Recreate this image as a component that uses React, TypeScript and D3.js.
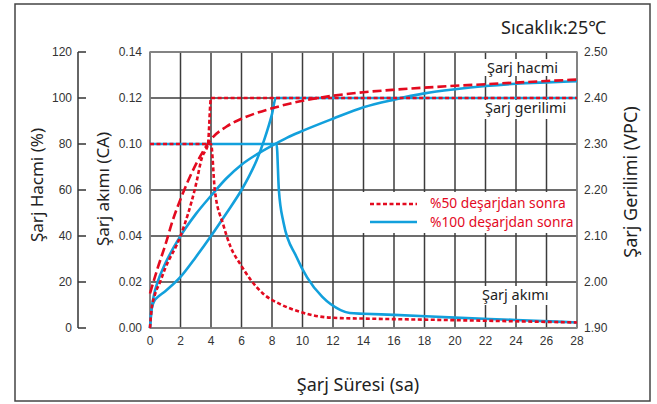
import React from 'react';
import * as d3 from 'd3';

const W = 657;
const H = 404;

// axis ticks
const hourTicks = [0, 2, 4, 6, 8, 10, 12, 14, 16, 18, 20, 22, 24, 26, 28];
const capTicks = [0, 20, 40, 60, 80, 100, 120];
const caTicks = [0, 0.02, 0.04, 0.06, 0.1, 0.12, 0.14];
const caLabels = ['0.00', '0.02', '0.04', '0.06', '0.10', '0.12', '0.14'];
const vTicks = [1.9, 2.0, 2.1, 2.2, 2.3, 2.4, 2.5];

// %50 desarj sonrası
const cur50T = [0, 2, 4, 4.25, 4.8, 5.3, 5.9, 6.6, 7.4, 8.5, 9.8, 11.1, 12.5, 14, 20, 28];
const cur50 = [0.1, 0.1, 0.1, 0.06, 0.045, 0.035, 0.028, 0.021, 0.015, 0.0105, 0.0071, 0.005, 0.0043, 0.0041, 0.0034, 0.0024];
const v50T = [0, 0.1, 0.3, 0.66, 1, 2, 3, 3.4, 3.8, 4, 28];
const v50 = [1.9, 1.94, 1.97, 2.0, 2.03, 2.1, 2.21, 2.27, 2.3, 2.4, 2.4];
const cap50T = [0, 0.5, 1, 1.5, 2, 2.5, 3, 3.5, 4, 5, 6, 7, 8, 9, 10, 11, 12, 14, 16, 18, 20, 22, 24, 26, 28];
const cap50 = [15, 26, 36, 47, 56, 64, 71, 77, 82, 87.5, 91, 93.5, 95.5, 97.3, 98.8, 100, 101, 102.5, 103.6, 104.5, 105.3, 106, 106.7, 107.4, 108];

// %100 desarj sonrası
const cur100T = [0, 4, 8, 8.3, 8.45, 8.75, 9.6, 10.3, 11.3, 12.5, 13.1, 14, 16, 20, 24, 28];
const cur100 = [0.1, 0.1, 0.1, 0.1, 0.06, 0.046, 0.031, 0.022, 0.0135, 0.0078, 0.0065, 0.0062, 0.0057, 0.0045, 0.0035, 0.0024];
const v100T = [0, 0.1, 0.3, 0.5, 1, 2, 3, 4, 5, 6, 6.5, 7, 7.5, 8, 8.25, 28];
const v100 = [1.9, 1.94, 1.96, 1.967, 1.98, 2.011, 2.054, 2.1, 2.149, 2.2, 2.23, 2.265, 2.31, 2.365, 2.4, 2.4];
const cap100T = [0, 0.1, 0.25, 0.5, 1, 2, 3, 4, 5, 6, 7, 8, 9, 10, 12, 14, 16, 18, 20, 22, 24, 26, 28];
const cap100 = [0, 8, 14, 20, 28, 40, 49.5, 57.5, 65, 71, 75.5, 79.3, 82.8, 85.7, 91, 96, 99.3, 102, 103.8, 105.2, 106.2, 106.8, 107.3];

const RED = '#e30a1f';
const BLUE = '#12a0dc';
const GRID = '#3c3c3c';
const TXT = '#333';
const TITLE_FONT = "'Noto Sans', 'Open Sans', sans-serif";
const TICK_FONT = "'Liberation Sans', Arial, sans-serif";

const x0 = 150, x1 = 577, y0 = 328, y1 = 52;

const App: React.FC = () => {
  const x = d3.scaleLinear().domain([0, 28]).range([x0, x1]);
  const yCap = d3.scaleLinear().domain([0, 120]).range([y0, y1]);
  const yV = d3.scaleLinear().domain([1.9, 2.5]).range([y0, y1]);
  const step = (y0 - y1) / 6;
  // the original axis skips 0.08, so the current scale is piecewise
  const yCA = d3.scaleLinear().domain([0, 0.06, 0.1, 0.14]).range([y0, y0 - 3 * step, y0 - 4 * step, y1]);

  const mk = (ts: number[], vs: number[], y: (v: number) => number) =>
    d3.line<number>().x((_, i) => x(ts[i])).y((v) => y(v)).curve(d3.curveMonotoneX)(vs) || '';

  return (
    <svg width={W} height={H} style={{ position: 'absolute', left: 0, top: 0, background: '#fff' }}>
      <rect x={15} y={4} width={635} height={397} fill="#fff" stroke="#444" strokeWidth={1.5} />

      {/* grid */}
      {hourTicks.map((h) => (
        <line key={'gx' + h} x1={x(h)} x2={x(h)} y1={y1} y2={y0} stroke={GRID} strokeWidth={1.5} />
      ))}
      {capTicks.map((c) => (
        <line key={'gy' + c} x1={x0} x2={x1} y1={yCap(c)} y2={yCap(c)} stroke={GRID} strokeWidth={1.5} />
      ))}
      <rect x={x0} y={y1} width={x1 - x0} height={y0 - y1} fill="none" stroke="#8a8a8a" strokeWidth={1.5} />

      {/* % axis */}
      <line x1={78} x2={78} y1={y1} y2={y0} stroke={TXT} strokeWidth={1.5} />
      {capTicks.map((c) => (
        <g key={'cp' + c}>
          <line x1={78} x2={86} y1={yCap(c)} y2={yCap(c)} stroke={TXT} strokeWidth={1.5} />
          <text x={72} y={yCap(c)} dy="0.35em" textAnchor="end" fontFamily={TICK_FONT} fontSize={12} fill={TXT}>{c}</text>
        </g>
      ))}
      {caTicks.map((c, i) => (
        <text key={'ca' + i} x={142} y={yCA(c)} dy="0.35em" textAnchor="end" fontFamily={TICK_FONT} fontSize={12} fill={TXT}>{caLabels[i]}</text>
      ))}
      {vTicks.map((v) => (
        <text key={'v' + v} x={584} y={yV(v)} dy="0.35em" textAnchor="start" fontFamily={TICK_FONT} fontSize={12} fill={TXT}>{v.toFixed(2)}</text>
      ))}
      {hourTicks.map((h) => (
        <text key={'hx' + h} x={x(h)} y={345} textAnchor="middle" fontFamily={TICK_FONT} fontSize={12} fill={TXT}>{h}</text>
      ))}

      {/* titles */}
      <text transform="translate(43,185) rotate(-90)" textAnchor="middle" fontFamily={TITLE_FONT} fontSize={17} fill="#222">Şarj Hacmi (%)</text>
      <text transform="translate(109,189) rotate(-90)" textAnchor="middle" fontFamily={TITLE_FONT} fontSize={17} fill="#222">Şarj akımı (CA)</text>
      <text transform="translate(637,182) rotate(-90)" textAnchor="middle" fontFamily={TITLE_FONT} fontSize={18} fill="#222">Şarj Gerilimi (VPC)</text>
      <text x={358} y={391} textAnchor="middle" fontFamily={TITLE_FONT} fontSize={18} fill="#222">Şarj Süresi (sa)</text>
      <text x={501} y={34} fontFamily={TITLE_FONT} fontSize={18} fill="#222">Sıcaklık:25℃</text>

      {/* label backgrounds */}
      <rect x={484} y={59} width={78} height={17} fill="#fff" />
      <rect x={483} y={100} width={88} height={19} fill="#fff" />
      <rect x={480} y={286} width={75} height={19} fill="#fff" />
      <rect x={359} y={192} width={217} height={41} fill="#fff" />

      {/* curves */}
      <g fill="none" strokeWidth={2.6}>
        <path d={mk(cap100T, cap100, yCap)} stroke={BLUE} />
        <path d={mk(v100T, v100, yV)} stroke={BLUE} />
        <path d={mk(cur100T, cur100, yCA)} stroke={BLUE} />
        <path d={mk(cap50T, cap50, yCap)} stroke={RED} strokeDasharray="9,4" />
        <path d={mk(v50T, v50, yV)} stroke={RED} strokeDasharray="4,2.5" />
        <path d={mk(cur50T, cur50, yCA)} stroke={RED} strokeDasharray="4,2.5" />
      </g>

      {/* curve labels */}
      <text x={487} y={73} fontFamily={TITLE_FONT} fontSize={14.5} fill="#222">Şarj hacmi</text>
      <text x={485} y={113} fontFamily={TITLE_FONT} fontSize={14.5} fill="#222">Şarj gerilimi</text>
      <text x={482} y={300} fontFamily={TITLE_FONT} fontSize={14.5} fill="#222">Şarj akımı</text>

      {/* legend */}
      <line x1={370} x2={417} y1={204} y2={204} stroke={RED} strokeWidth={2.6} strokeDasharray="4,2.5" />
      <line x1={370} x2={417} y1={222} y2={222} stroke={BLUE} strokeWidth={2.6} />
      <text x={430} y={208} fontFamily={TITLE_FONT} fontSize={13.8} fill={RED}>%50 deşarjdan sonra</text>
      <text x={430} y={227} fontFamily={TITLE_FONT} fontSize={13.8} fill={RED}>%100 deşarjdan sonra</text>
    </svg>
  );
};

export default App;
